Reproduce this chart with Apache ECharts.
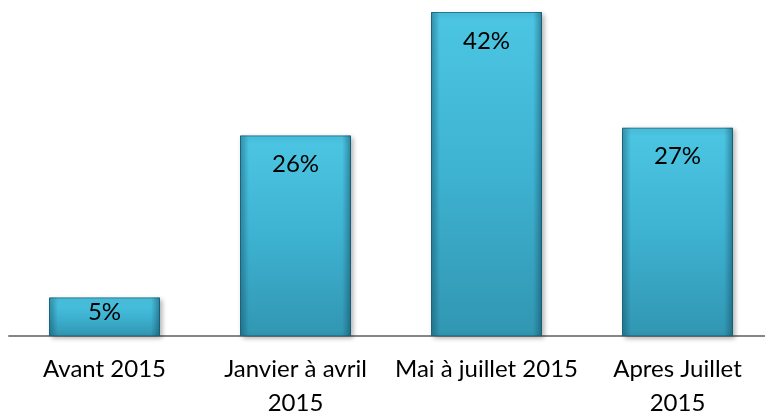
<!DOCTYPE html>
<html>
<head>
<meta charset="utf-8">
<script src="https://cdn.jsdelivr.net/npm/echarts@6/dist/echarts.min.js"></script>
<style>
  html, body { margin: 0; padding: 0; background: #fff; }
  #chart { width: 765px; height: 416px; }
</style>
</head>
<body>
<div id="chart"></div>
<script>
// catégories et valeurs (%)
const categories = ['Avant 2015', 'Janvier à avril\n2015', 'Mai à juillet 2015', 'Apres Juillet\n2015'];
const values = [5, 26, 42, 27];

const chart = echarts.init(document.getElementById('chart'));

const bodyColor = new echarts.graphic.LinearGradient(0, 0, 0, 1, [
  { offset: 0, color: '#4cc6e4' },
  { offset: 0.5, color: '#3eb2d1' },
  { offset: 1, color: '#3196b2' },
]);
// bords latéraux plus sombres (effet biseau)
const edgeColor = new echarts.graphic.LinearGradient(0, 0, 1, 0, [
  { offset: 0, color: 'rgba(10,60,80,0.35)' },
  { offset: 0.08, color: 'rgba(10,60,80,0)' },
  { offset: 0.92, color: 'rgba(10,60,80,0)' },
  { offset: 1, color: 'rgba(10,60,80,0.45)' },
]);

// petite barre : étiquette près du haut
const barData = values.map(v => (v < 10 ? { value: v, label: { distance: 3 } } : v));

chart.setOption({
  animation: false,
  grid: { left: 9, right: -8, top: 12, bottom: 80, outerBoundsMode: 'none', containLabel: false },
  xAxis: {
    type: 'category',
    data: categories,
    axisLine: { show: true, lineStyle: { color: '#868686', width: 2 } },
    axisTick: { show: false },
    axisLabel: {
      color: '#000',
      fontFamily: 'Lato',
      fontSize: 24,
      lineHeight: 34,
      margin: 16,
      interval: 0,
    },
  },
  yAxis: {
    type: 'value',
    min: 0,
    max: 42,
    show: false,
    splitLine: { show: false },
  },
  series: [
    {
      type: 'bar',
      data: barData,
      barWidth: 111,
      itemStyle: {
        color: bodyColor,
        borderColor: '#237890',
        borderWidth: 1,
        shadowColor: 'rgba(0,0,0,0.3)',
        shadowBlur: 5,
        shadowOffsetX: 2,
        shadowOffsetY: 2,
      },
      label: {
        show: true,
        position: 'insideTop',
        distance: 17,
        formatter: '{c}%',
        color: '#000',
        fontFamily: 'Lato',
        fontSize: 24,
      },
      z: 2,
    },
    {
      type: 'bar',
      data: values,
      barWidth: 111,
      barGap: '-100%',
      silent: true,
      itemStyle: { color: edgeColor },
      z: 3,
    },
  ],
});
</script>
</body>
</html>
